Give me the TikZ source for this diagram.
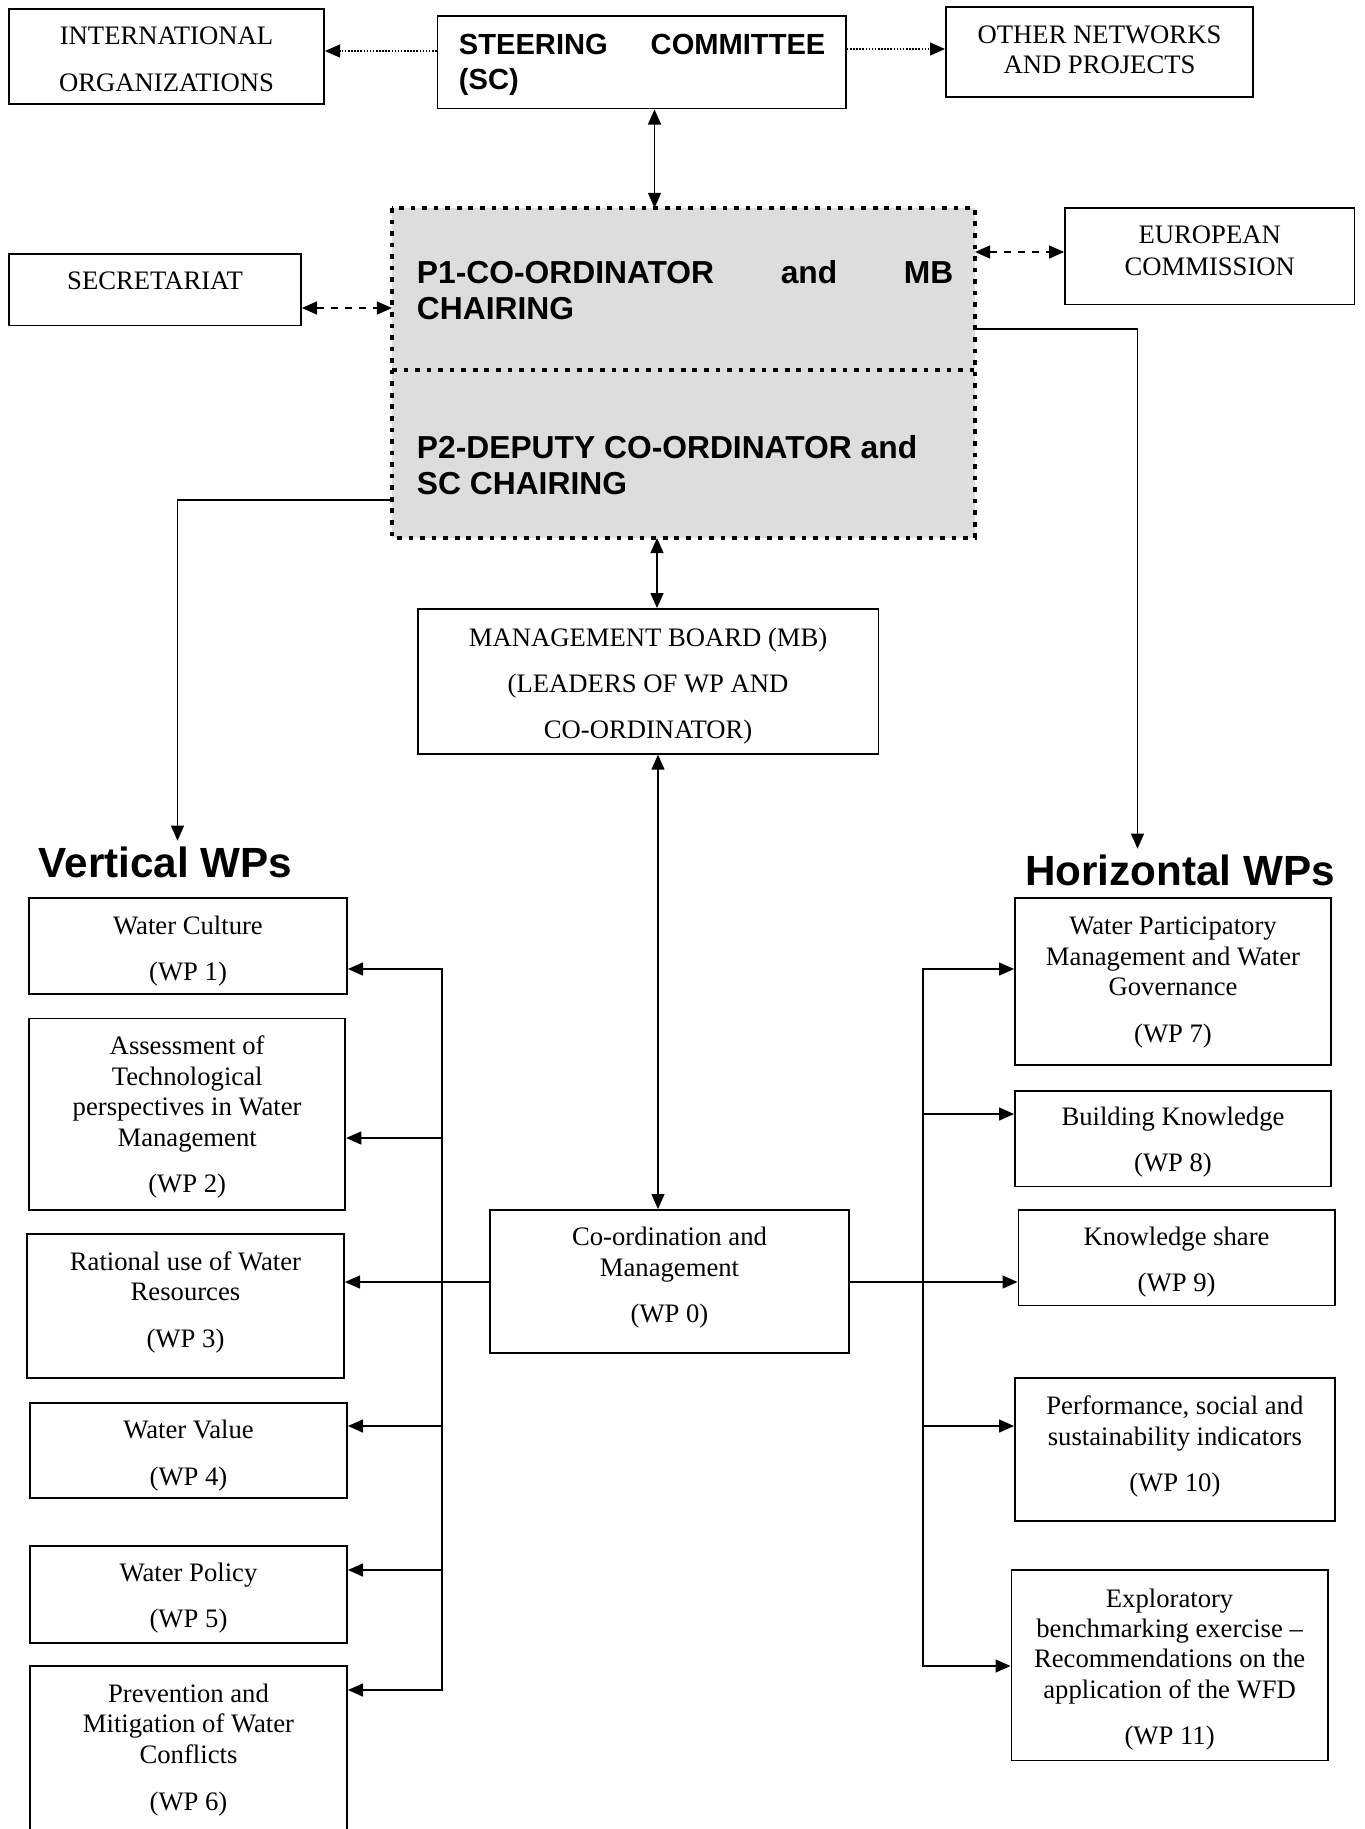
\documentclass[tikz,border=0pt]{standalone}
\usepackage{fontspec}
\setmainfont{Liberation Serif}
\setsansfont{Liberation Sans}
\usetikzlibrary{arrows.meta,fit}
\definecolor{panelgray}{RGB}{221,221,221}
\begin{document}
\begin{tikzpicture}[x=0.45pt,y=-0.45pt,
  boxframe/.style={draw, line width=0.8pt, inner sep=0pt},
  graypanel/.style={fill=panelgray, inner sep=0pt, outer sep=0pt},
  plaintext/.style={inner sep=0pt, align=center, font=\fontsize{12}{13.7}\selectfont},
  boldtext/.style={inner sep=0pt, align=left, font=\fontsize{14.3}{16.2}\selectfont\sffamily\bfseries},
  wptitle/.style={inner sep=2.4pt, font=\fontsize{19}{22}\selectfont\sffamily\bfseries},
  wire/.style={line width=0.8pt},
  tipend/.style={-{Triangle[length=6.8pt,width=5.8pt]}},
  tipboth/.style={{Triangle[length=6.8pt,width=5.8pt]}-{Triangle[length=6.8pt,width=5.8pt]}},
  finedots/.style={line width=0.7pt, dash pattern=on 0.7pt off 0.7pt},
  dashline/.style={line width=0.8pt, dash pattern=on 3.5pt off 2.8pt},
  bigdots/.style={line width=2.1pt, dash pattern=on 2.1pt off 3.1pt},
]
\fill[white] (0,0) rectangle (1365,1829);
\useasboundingbox (0,0) rectangle (1365,1829);
\clip (0,0) rectangle (1365,1829);

% ---------- top row ----------
\node[boxframe, fit={(9,9) (324,104)}] (intl) {};
\node[plaintext] (intl-t) at (intl.center |- 0,59.5) {INTERNATIONAL\\[7.45pt]ORGANIZATIONS};

\node[boxframe, fit={(437.5,16) (846,108.5)}] (sc) {};
\node[boldtext, anchor=west, font=\fontsize{13.1}{15.7}\selectfont\sffamily\bfseries] (sc-t) at (458.5,65) {\hbox to 164.9pt{STEERING\hfill COMMITTEE}\\(SC)};

\node[boxframe, fit={(946,7) (1253,97)}] (other) {};
\node[plaintext] (other-t) at (other.center |- 0,50) {OTHER NETWORKS\\AND PROJECTS};

% ---------- co-ordinator panel ----------
\node[graypanel, fit={(392,208) (975,370)}] (p1) {};
\node[graypanel, fit={(392,370) (975,538)}] (p2) {};
\draw[bigdots] (p1.north west) rectangle (p2.south east);
\draw[bigdots] (p1.south west) -- (p1.south east);
\node[boldtext, anchor=west] (p1-t) at (416.5,290) {\hbox to 241.4pt{P1-CO-ORDINATOR\hfill and\hfill MB}\\CHAIRING};
\node[boldtext, anchor=west] (p2-t) at (416.5,465) {P2-DEPUTY CO-ORDINATOR and\\SC CHAIRING};

\node[boxframe, fit={(9,254) (301,325.5)}] (sec) {};
\node[plaintext] (sec-t) at (sec.center |- 0,281) {SECRETARIAT};

\node[boxframe, fit={(1065,208) (1354.5,304.5)}] (ec) {};
\node[plaintext] (ec-t) at (ec.center |- 0,251) {EUROPEAN\\[0.5pt]COMMISSION};

% ---------- management board and WP 0 ----------
\node[boxframe, fit={(417.7,609) (878.5,753.7)}] (mb) {};
\node[plaintext] (mb-t) at (mb.center |- 0,686) {MANAGEMENT BOARD (MB)\\[7pt](LEADERS OF WP AND\\[7pt]CO-ORDINATOR)};

\node[boxframe, fit={(490,1210) (849,1353)}] (wp0) {};
\node[plaintext] (wp0-t) at (wp0.center |- 0,1278) {Co-ordination and\\Management\\[7.2pt](WP 0)};

% ---------- group titles ----------
\node[wptitle, anchor=west] (vert) at (33.2,862) {Vertical WPs};
\node[wptitle, anchor=west] (horiz) at (1019.5,870) {Horizontal WPs};

% ---------- vertical WPs ----------
\node[boxframe, fit={(29,898) (347,994)}] (wp1) {};
\node[plaintext] (wp1-t) at (wp1.center |- 0,951) {Water Culture\\[7.2pt](WP 1)};

\node[boxframe, fit={(29,1018.5) (345.3,1210)}] (wp2) {};
\node[plaintext] (wp2-t) at (wp2.center |- 0,1117) {Assessment of\\Technological\\perspectives in Water\\Management\\[7pt](WP 2)};

\node[boxframe, fit={(27,1234) (344,1378)}] (wp3) {};
\node[plaintext] (wp3-t) at (wp3.center |- 0,1302) {Rational use of Water\\Resources\\[7.2pt](WP 3)};

\node[boxframe, fit={(30,1403) (347,1498)}] (wp4) {};
\node[plaintext] (wp4-t) at (wp4.center |- 0,1455.5) {Water Value\\[7.2pt](WP 4)};

\node[boxframe, fit={(30,1546) (347,1643)}] (wp5) {};
\node[plaintext] (wp5-t) at (wp5.center |- 0,1598.5) {Water Policy\\[7pt](WP 5)};

\node[boxframe, fit={(30,1666) (347,1860)}] (wp6) {};
\node[plaintext] (wp6-t) at (wp6.center |- 0,1750) {Prevention and\\Mitigation of Water\\Conflicts\\[7.6pt](WP 6)};

% ---------- horizontal WPs ----------
\node[boxframe, fit={(1015,898) (1331,1065)}] (wp7) {};
\node[plaintext] (wp7-t) at (wp7.center |- 0,982.5) {Water Participatory\\Management and Water\\Governance\\[7.2pt](WP 7)};

\node[boxframe, fit={(1015,1091) (1331,1186.5)}] (wp8) {};
\node[plaintext] (wp8-t) at (wp8.center |- 0,1142.5) {Building Knowledge\\[7pt](WP 8)};

\node[boxframe, fit={(1018.5,1210) (1334.7,1305.5)}] (wp9) {};
\node[plaintext] (wp9-t) at (wp9.center |- 0,1262.5) {Knowledge share\\[7pt](WP 9)};

\node[boxframe, fit={(1015,1378) (1334.7,1521)}] (wp10) {};
\node[plaintext] (wp10-t) at (wp10.center |- 0,1446.5) {Performance, social and\\sustainability indicators\\[7.2pt](WP 10)};

\node[boxframe, fit={(1011.5,1570) (1327.7,1760.5)}] (wp11) {};
\node[plaintext] (wp11-t) at (wp11.center |- 0,1669.5) {Exploratory\\benchmarking exercise –\\Recommendations on the\\application of the WFD\\[7.2pt](WP 11)};

% ---------- connectors, upper part ----------
\draw[finedots, tipend] (sc.west |- 0,51) -- (intl.east |- 0,51);
\draw[finedots, tipend] (sc.east |- 0,49) -- (other.west |- 0,49);
\draw[wire, tipboth] (sc.south -| 654.5,0) -- (p1.north -| 654.5,0);
\draw[dashline, tipboth] (sec.east |- 0,308) -- (p1.west |- 0,308);
\draw[dashline, tipboth] (p1.east |- 0,252) -- (ec.west |- 0,252);
\draw[wire, tipend] (p1.east |- 0,329) -| (horiz.north -| 1137.5,0);
\draw[wire, tipend] (p2.west |- 0,500) -| (vert.north -| 177.5,0);
\draw[wire, tipboth] (p2.south -| 657,0) -- (mb.north -| 657,0);
\draw[wire, tipboth] (mb.south -| 658,0) -- (wp0.north -| 658,0);

% ---------- left distribution bus ----------
\coordinate (l1) at (441.7,969);
\coordinate (l2) at (441.7,1138);
\coordinate (l4) at (441.7,1426);
\coordinate (l5) at (441.7,1570);
\coordinate (l6) at (441.7,1690);
\draw[wire, tipboth] (wp1.east |- l1) -- (l1) -- (l6) -- (wp6.east |- l6);
\draw[wire, tipend] (l2) -- (wp2.east |- l2);
\draw[wire, tipend] (l4) -- (wp4.east |- l4);
\draw[wire, tipend] (l5) -- (wp5.east |- l5);
\draw[wire, tipend] (wp0.west |- 0,1282) -- (wp3.east |- 0,1282);

% ---------- right distribution bus ----------
\coordinate (r7) at (923,969);
\coordinate (r8) at (923,1114);
\coordinate (r10) at (923,1426);
\coordinate (r11) at (923,1666);
\draw[wire, tipboth] (wp7.west |- r7) -- (r7) -- (r11) -- (wp11.west |- r11);
\draw[wire, tipend] (r8) -- (wp8.west |- r8);
\draw[wire, tipend] (r10) -- (wp10.west |- r10);
\draw[wire, tipend] (wp0.east |- 0,1282) -- (wp9.west |- 0,1282);
\end{tikzpicture}
\end{document}
